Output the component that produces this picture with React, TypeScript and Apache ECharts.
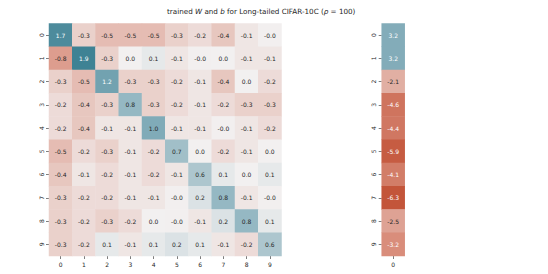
import React, { useEffect, useRef } from "react";
import * as echarts from "echarts";

const classLabels = ["0", "1", "2", "3", "4", "5", "6", "7", "8", "9"];
const biasCol = ["0"];

// W matrix rows (row i = class i), columns 0..9
const wRow0 = [1.7, -0.3, -0.5, -0.5, -0.5, -0.3, -0.2, -0.4, -0.1, -0.01];
const wRow1 = [-0.8, 1.9, -0.3, 0.0, 0.1, -0.1, -0.01, 0.0, -0.1, -0.1];
const wRow2 = [-0.3, -0.5, 1.2, -0.3, -0.3, -0.2, -0.1, -0.4, 0.0, -0.2];
const wRow3 = [-0.2, -0.4, -0.3, 0.8, -0.3, -0.2, -0.1, -0.2, -0.3, -0.3];
const wRow4 = [-0.2, -0.4, -0.1, -0.1, 1.0, -0.1, -0.1, -0.01, -0.1, -0.2];
const wRow5 = [-0.5, -0.2, -0.3, -0.1, -0.2, 0.7, 0.0, -0.2, -0.1, 0.0];
const wRow6 = [-0.4, -0.1, -0.2, -0.1, -0.2, -0.1, 0.6, 0.1, 0.0, 0.1];
const wRow7 = [-0.3, -0.2, -0.2, -0.1, -0.1, -0.01, 0.2, 0.8, -0.1, -0.01];
const wRow8 = [-0.3, -0.2, -0.3, -0.2, 0.0, -0.01, -0.1, 0.2, 0.8, 0.1];
const wRow9 = [-0.3, -0.2, 0.1, -0.1, 0.1, 0.2, 0.1, -0.1, -0.2, 0.6];
const wRows = [wRow0, wRow1, wRow2, wRow3, wRow4, wRow5, wRow6, wRow7, wRow8, wRow9];

const bValues = [3.2, 3.2, -2.1, -4.6, -4.4, -5.9, -4.1, -6.3, -2.5, -3.2];

const palette = ["#c3553a", "#d98e7c", "#f2f0f0", "#84adba", "#3e8294"];
const FONT = "DejaVu Sans";

export default function App() {
  const ref = useRef<HTMLDivElement>(null);
  useEffect(() => {
    if (!ref.current) return;
    const chart = echarts.init(ref.current, null, { renderer: "svg" });

    const wData: any[] = [];
    wRows.forEach((row, i) => row.forEach((v, j) => wData.push([j, i, v])));
    const bData: any[] = bValues.map((v, i) => [0, i, v]);

    const wMax = Math.max(...wData.map((d) => Math.abs(d[2])));
    const bMax = Math.max(...bValues.map((v) => Math.abs(v)));

    const mkLabel = (vmax: number, posThr: number, negThr: number) => ({
      show: true,
      fontFamily: FONT,
      formatter: (p: any) => {
        const v = p.value[2];
        const t = v / vmax;
        const cls = t > posThr || t < -negThr ? "w" : "d";
        return `{${cls}|${v.toFixed(1)}}`;
      },
      rich: {
        w: { color: "#ffffff", fontSize: 6, fontFamily: FONT },
        d: { color: "#262626", fontSize: 6, fontFamily: FONT },
      },
    });

    const axisCommon = {
      type: "category" as const,
      axisLine: { show: false },
      axisTick: { show: true, alignWithLabel: true, length: 3, lineStyle: { color: "#262626", width: 0.6 } },
      splitLine: { show: false },
    };
    const xLabel = { fontSize: 6, color: "#262626", fontFamily: FONT, margin: 5 };
    const yLabel = { fontSize: 6, color: "#262626", fontFamily: FONT, margin: 5, rotate: 90 };

    chart.setOption({
      animation: false,
      backgroundColor: "#ffffff",
      title: {
        text: "{n|trained }{i|W}{n| and }{i|b}{n| for Long-tailed CIFAR-10C (}{i|ρ}{n| = 100)}",
        left: 162,
        top: 3,
        textStyle: {
          fontWeight: "normal",
          rich: {
            n: { fontSize: 7.2, fontFamily: FONT, color: "#262626", fontWeight: "normal" },
            i: { fontSize: 7.2, fontFamily: FONT, color: "#262626", fontWeight: "normal", fontStyle: "italic" },
          },
        },
      },
      grid: [
        { left: 49, top: 23.5, width: 232.5, height: 232.5 },
        { left: 381.7, top: 23.5, width: 23, height: 232.5 },
      ],
      xAxis: [
        { ...axisCommon, gridIndex: 0, data: classLabels, position: "bottom", axisLabel: xLabel },
        { ...axisCommon, gridIndex: 1, data: biasCol, position: "bottom", axisLabel: xLabel },
      ],
      yAxis: [
        { ...axisCommon, gridIndex: 0, data: classLabels, inverse: true, axisLabel: yLabel },
        { ...axisCommon, gridIndex: 1, data: classLabels, inverse: true, axisLabel: yLabel },
      ],
      visualMap: [
        { show: false, seriesIndex: 0, min: -wMax, max: wMax, dimension: 2, inRange: { color: palette } },
        { show: false, seriesIndex: 1, min: -bMax, max: bMax, dimension: 2, inRange: { color: palette } },
      ],
      series: [
        {
          type: "heatmap",
          xAxisIndex: 0,
          yAxisIndex: 0,
          data: wData,
          label: mkLabel(wMax, 0.6, 0.45),
          emphasis: { disabled: true },
        },
        {
          type: "heatmap",
          xAxisIndex: 1,
          yAxisIndex: 1,
          data: bData,
          label: mkLabel(bMax, 0.48, 0.45),
          emphasis: { disabled: true },
        },
      ],
    });
    return () => chart.dispose();
  }, []);
  return (
    <div
      ref={ref}
      style={{ position: "fixed", left: 0, top: 0, width: 548, height: 274 }}
    />
  );
}
